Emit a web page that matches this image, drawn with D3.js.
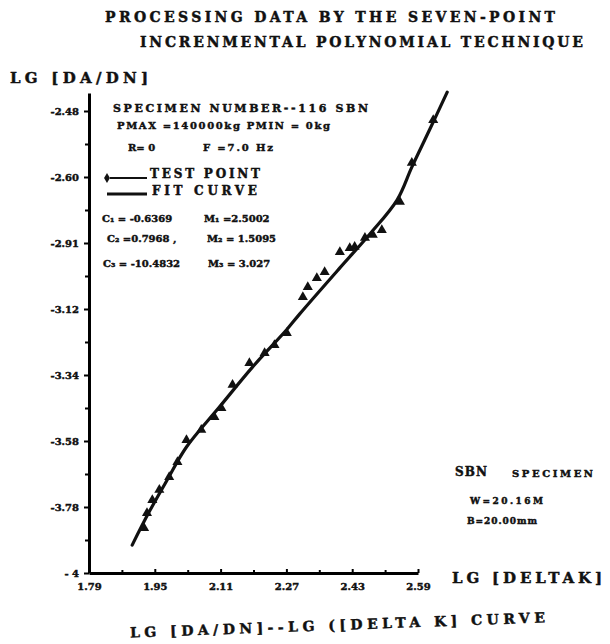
<!DOCTYPE html>
<html>
<head>
<meta charset="utf-8">
<script src="https://cdn.jsdelivr.net/npm/d3@7"></script>
<style>
  body { margin: 0; background: #fff; }
  text { font-family: "DejaVu Serif", "Liberation Serif", serif; font-weight: bold; fill: #111; stroke: #111; stroke-width: 0.45px; }
</style>
</head>
<body>
<div id="chart"></div>
<script>
// test points
const testX = [1.924, 1.931, 1.944, 1.961, 1.985, 2.005, 2.027, 2.063, 2.095, 2.112,
               2.139, 2.180, 2.217, 2.241, 2.271, 2.310, 2.322, 2.344, 2.363, 2.400,
               2.424, 2.436, 2.461, 2.480, 2.502, 2.546, 2.575, 2.627];
const testY = [-3.850, -3.800, -3.757, -3.723, -3.680, -3.630, -3.557, -3.523, -3.480, -3.450,
               -3.373, -3.300, -3.267, -3.240, -3.200, -3.080, -3.047, -3.017, -2.997, -2.930,
               -2.917, -2.913, -2.883, -2.873, -2.857, -2.763, -2.633, -2.490];

// fit curve (three polynomial segments)
const fitX = [1.895, 1.936, 1.980, 2.027, 2.107, 2.188, 2.270, 2.302, 2.400, 2.473, 2.539, 2.575, 2.619, 2.661];
const fitY = [-3.907, -3.797, -3.690, -3.580, -3.447, -3.313, -3.190, -3.137, -2.983, -2.870, -2.757, -2.647, -2.520, -2.397];

const xTicks = [1.79, 1.95, 2.11, 2.27, 2.43, 2.59];
const xTickLabels = ["1.79", "1.95", "2.11", "2.27", "2.43", "2.59"];
const xMinor = [1.87, 2.03, 2.19, 2.35, 2.51];
const yTicks = [-4, -3.78, -3.56, -3.34, -3.12, -2.90, -2.68, -2.46];
const yTickLabels = ["- 4", "-3.78", "-3.58", "-3.34", "-3.12", "-2.91", "-2.60", "-2.48"];
const yMinor = [-3.89, -3.67, -3.45, -3.23, -3.01, -2.79, -2.57];

const W = 610, H = 644;

const svg = d3.select('#chart')
  .append('svg')
  .attr('width', W)
  .attr('height', H);

const xScale = d3.scaleLinear().domain([1.79, 2.59]).range([89, 418]);
const yScale = d3.scaleLinear().domain([-4, -2.40]).range([573, 93]);

// titles
svg.append('text').attr('x', 105).attr('y', 22).attr('font-size', 14)
  .attr('textLength', 450).attr('lengthAdjust', 'spacing')
  .text('PROCESSING DATA BY THE SEVEN-POINT');
svg.append('text').attr('x', 140).attr('y', 47).attr('font-size', 14)
  .attr('textLength', 443).attr('lengthAdjust', 'spacing')
  .text('INCRENMENTAL POLYNOMIAL TECHNIQUE');

svg.append('text').attr('x', 10).attr('y', 83).attr('font-size', 15)
  .attr('textLength', 138).attr('lengthAdjust', 'spacing')
  .text('LG [DA/DN]');

svg.append('text').attr('x', 452).attr('y', 583).attr('font-size', 15)
  .attr('textLength', 150).attr('lengthAdjust', 'spacing')
  .text('LG [DELTAK]');

svg.append('text').attr('x', 130).attr('y', 630).attr('font-size', 14)
  .attr('textLength', 415).attr('lengthAdjust', 'spacing')
  .attr('transform', 'rotate(-2.1,337,625)')
  .text('LG [DA/DN]--LG ([DELTA K] CURVE');

// axes
const yAxis = svg.append('g')
  .attr('transform', 'translate(89,0)')
  .call(d3.axisLeft(yScale).tickValues(yTicks).tickSize(5).tickSizeOuter(0)
    .tickFormat((d, i) => yTickLabels[i]));
yAxis.select('.domain').attr('stroke-width', 3);
yAxis.selectAll('.tick line').attr('stroke-width', 2);
yAxis.selectAll('.tick text').attr('font-size', 10).attr('x', -10);

svg.append('g')
  .attr('transform', 'translate(89,0)')
  .call(d3.axisLeft(yScale).tickValues(yMinor).tickSize(4).tickFormat(''))
  .call(g => g.select('.domain').remove())
  .selectAll('.tick line').attr('stroke-width', 2);

const xAxis = svg.append('g')
  .attr('transform', 'translate(0,573)')
  .call(d3.axisBottom(xScale).tickValues(xTicks).tickSize(-4).tickSizeOuter(0)
    .tickFormat((d, i) => xTickLabels[i]));
xAxis.select('.domain').attr('stroke-width', 3);
xAxis.selectAll('.tick line').attr('stroke-width', 2);
xAxis.selectAll('.tick text').attr('font-size', 10).attr('y', 10);

svg.append('g')
  .attr('transform', 'translate(0,573)')
  .call(d3.axisBottom(xScale).tickValues(xMinor).tickSize(-3).tickFormat(''))
  .call(g => g.select('.domain').remove())
  .selectAll('.tick line').attr('stroke-width', 2);

// fit curve
const fitData = fitX.map((x, i) => ({ x: x, y: fitY[i] }));
const line = d3.line()
  .curve(d3.curveCatmullRom)
  .x(d => xScale(d.x))
  .y(d => yScale(d.y));

svg.append('path')
  .datum(fitData)
  .attr('d', line)
  .attr('fill', 'none')
  .attr('stroke', '#111')
  .attr('stroke-width', 3.2)
  .attr('stroke-linecap', 'round');

// test points
const testData = testX.map((x, i) => ({ x: x, y: testY[i] }));
svg.selectAll('.point')
  .data(testData)
  .enter()
  .append('path')
  .attr('class', 'point')
  .attr('d', d3.symbol().type(d3.symbolTriangle).size(44))
  .attr('transform', d => 'translate(' + xScale(d.x) + ',' + yScale(d.y) + ')')
  .attr('fill', '#111');

// legend block
const info = svg.append('g').attr('font-size', 10);
info.append('text').attr('x', 113).attr('y', 112).attr('font-size', 11)
  .attr('textLength', 255).attr('lengthAdjust', 'spacing')
  .text('SPECIMEN  NUMBER--116 SBN');
info.append('text').attr('x', 117).attr('y', 129).attr('font-size', 10)
  .attr('textLength', 213).attr('lengthAdjust', 'spacing')
  .text('PMAX =140000kg  PMIN = 0kg');
info.append('text').attr('x', 128).attr('y', 151).attr('font-size', 10).text('R= 0');
info.append('text').attr('x', 203).attr('y', 151).attr('font-size', 10)
  .attr('textLength', 70).attr('lengthAdjust', 'spacing').text('F =7.0 Hz');

info.append('path')
  .attr('d', d3.symbol().type(d3.symbolDiamond).size(30))
  .attr('transform', 'translate(107,178)').attr('fill', '#111');
info.append('line').attr('x1', 110).attr('x2', 147).attr('y1', 178).attr('y2', 178)
  .attr('stroke', '#111').attr('stroke-width', 2);
info.append('text').attr('x', 150).attr('y', 178).attr('font-size', 12)
  .attr('textLength', 110).attr('lengthAdjust', 'spacing').text('TEST POINT');
info.append('line').attr('x1', 107).attr('x2', 147).attr('y1', 194).attr('y2', 194)
  .attr('stroke', '#111').attr('stroke-width', 3);
info.append('text').attr('x', 152).attr('y', 195).attr('font-size', 12)
  .attr('textLength', 105).attr('lengthAdjust', 'spacing').text('FIT CURVE');

const coefRows = [
  ['C₁ = -0.6369', 'M₁ =2.5002', 102, 204, 222],
  ['C₂ =0.7968 ,', 'M₂ = 1.5095', 107, 207, 242],
  ['C₃ = -10.4832', 'M₃ = 3.027', 103, 208, 267]
];
coefRows.forEach(r => {
  info.append('text').attr('x', r[2]).attr('y', r[4]).attr('font-size', 10).text(r[0]);
  info.append('text').attr('x', r[3]).attr('y', r[4]).attr('font-size', 10).text(r[1]);
});

// specimen note
const note = svg.append('g');
note.append('text').attr('x', 455).attr('y', 476).attr('font-size', 12)
  .attr('textLength', 32).attr('lengthAdjust', 'spacing').text('SBN');
note.append('text').attr('x', 512).attr('y', 477).attr('font-size', 10)
  .attr('textLength', 81).attr('lengthAdjust', 'spacing').text('SPECIMEN');
note.append('text').attr('x', 470).attr('y', 504).attr('font-size', 9)
  .attr('textLength', 73).attr('lengthAdjust', 'spacing').text('W=20.16M');
note.append('text').attr('x', 467).attr('y', 524).attr('font-size', 9)
  .attr('textLength', 70).attr('lengthAdjust', 'spacing').text('B=20.00mm');
</script>
</body>
</html>
